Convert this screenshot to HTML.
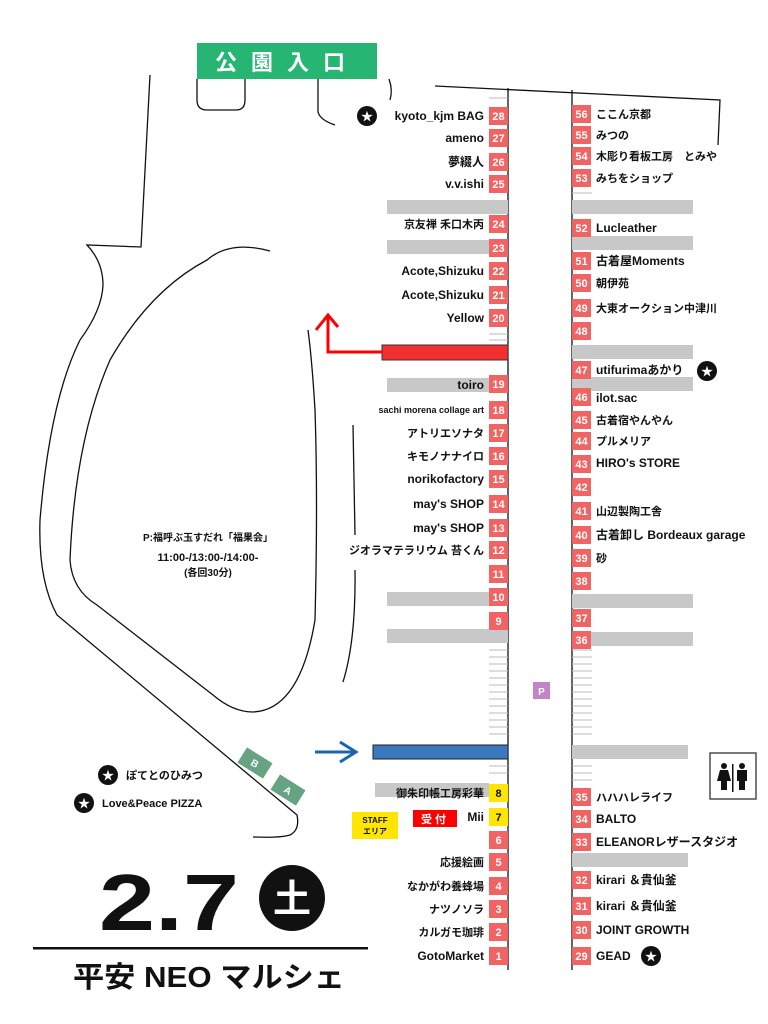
<!DOCTYPE html>
<html><head><meta charset="utf-8"><style>
html,body{margin:0;padding:0;background:#fff;}
svg{display:block;font-family:"Liberation Sans","Noto Sans CJK JP",sans-serif;}
.l{font-size:12px;font-weight:bold;text-anchor:end;fill:#111;}
.r{font-size:12px;font-weight:bold;fill:#111;}
.n{font-size:11px;font-weight:bold;fill:#fff;text-anchor:middle;}
</style></head><body>
<svg width="768" height="1024" viewBox="0 0 768 1024" xmlns="http://www.w3.org/2000/svg">
<rect x="197" y="43" width="180" height="36" fill="#27b573"/>
<text x="287" y="70" font-size="22" font-weight="bold" fill="#fff" text-anchor="middle" letter-spacing="14">公園入口</text>
<g fill="none" stroke="#111" stroke-width="1.3">
<path d="M197,79 L197,100 Q197,110 207,110 L236,110 Q245,110 245,100 L245,79"/>
<path d="M318,79 L318,112 Q320,120 335,125"/>
<path d="M389,79 Q393,90 390,100"/>
<path d="M435,86 L720,100 L718,145"/>
<line x1="508" y1="88" x2="508" y2="970"/>
<line x1="572" y1="90" x2="572" y2="970"/>
<path d="M150,75 L141,247 L87,245 Q103,262 103,285 Q102,310 80,340 Q50,400 40,520 Q38,580 57,615 L297,815 Q300,830 290,835 Q280,838 253,837"/>
<path d="M270,251 Q230,240 207,260 Q150,290 110,360 Q75,440 70,560 Q72,590 97,605 L213,695 Q233,712 253,712 Q300,710 315,620 Q318,500 315,410 Q312,360 308,330"/>
<path d="M353,425 L355,535"/>
<path d="M355,570 Q356,640 343,682"/>
</g>
<g fill="#c8c8c8">
<rect x="387" y="200" width="121" height="14"/><rect x="572" y="200" width="121" height="14"/>
<rect x="387" y="240" width="102" height="14"/><rect x="572" y="236" width="121" height="14"/>
<rect x="572" y="345" width="121" height="14"/>
<rect x="387" y="378" width="102" height="14"/><rect x="572" y="377" width="121" height="14"/>
<rect x="387" y="592" width="121" height="14"/><rect x="572" y="594" width="121" height="14"/>
<rect x="387" y="629" width="121" height="14"/><rect x="572" y="632" width="121" height="14"/>
<rect x="572" y="745" width="116" height="14"/>
<rect x="375" y="783" width="114" height="14"/>
<rect x="572" y="853" width="116" height="14"/>
</g>
<g stroke="#bbb" stroke-width="1">
<line x1="489" y1="650" x2="508" y2="650"/><line x1="489" y1="657" x2="508" y2="657"/><line x1="489" y1="664" x2="508" y2="664"/><line x1="489" y1="671" x2="508" y2="671"/><line x1="489" y1="678" x2="508" y2="678"/><line x1="489" y1="685" x2="508" y2="685"/><line x1="489" y1="692" x2="508" y2="692"/><line x1="489" y1="699" x2="508" y2="699"/><line x1="489" y1="706" x2="508" y2="706"/><line x1="489" y1="713" x2="508" y2="713"/><line x1="489" y1="720" x2="508" y2="720"/><line x1="489" y1="727" x2="508" y2="727"/><line x1="489" y1="734" x2="508" y2="734"/><line x1="489" y1="766" x2="508" y2="766"/><line x1="489" y1="773" x2="508" y2="773"/>
<line x1="572" y1="650" x2="592" y2="650"/><line x1="572" y1="657" x2="592" y2="657"/><line x1="572" y1="664" x2="592" y2="664"/><line x1="572" y1="671" x2="592" y2="671"/><line x1="572" y1="678" x2="592" y2="678"/><line x1="572" y1="685" x2="592" y2="685"/><line x1="572" y1="692" x2="592" y2="692"/><line x1="572" y1="699" x2="592" y2="699"/><line x1="572" y1="706" x2="592" y2="706"/><line x1="572" y1="713" x2="592" y2="713"/><line x1="572" y1="720" x2="592" y2="720"/><line x1="572" y1="727" x2="592" y2="727"/><line x1="572" y1="734" x2="592" y2="734"/><line x1="572" y1="766" x2="592" y2="766"/><line x1="572" y1="773" x2="592" y2="773"/><line x1="572" y1="780" x2="592" y2="780"/>
<line x1="489" y1="98" x2="508" y2="98"/><line x1="489" y1="334" x2="508" y2="334"/><line x1="489" y1="340" x2="508" y2="340"/><line x1="572" y1="193" x2="592" y2="193"/>
</g>
<rect x="382" y="345" width="126" height="15" fill="#f23030" stroke="#333" stroke-width="1"/>
<rect x="373" y="745" width="135" height="14" fill="#3a78c0" stroke="#222" stroke-width="1"/>
<path d="M382,352 L328,352 L328,317" fill="none" stroke="#f00" stroke-width="3"/>
<path d="M316,330 L328,315 L338,327" fill="none" stroke="#f00" stroke-width="3"/>
<path d="M315,752 L355,752" stroke="#1a64b0" stroke-width="3"/>
<path d="M340,742 L356,752 L340,762" fill="none" stroke="#1a64b0" stroke-width="3"/>
<rect x="533" y="682" width="17" height="17" fill="#c283c9"/>
<text x="541.5" y="695" font-size="10" font-weight="bold" fill="#fff" text-anchor="middle">P</text>
<g fill="#f06464">
<rect x="489" y="107" width="19" height="18"/><rect x="489" y="129" width="19" height="18"/><rect x="489" y="153" width="19" height="18"/><rect x="489" y="175" width="19" height="18"/><rect x="489" y="215" width="19" height="18"/><rect x="489" y="239" width="19" height="18"/><rect x="489" y="262" width="19" height="18"/><rect x="489" y="286" width="19" height="18"/><rect x="489" y="309" width="19" height="18"/><rect x="489" y="375" width="19" height="18"/><rect x="489" y="401" width="19" height="18"/><rect x="489" y="424" width="19" height="18"/><rect x="489" y="447" width="19" height="18"/><rect x="489" y="470" width="19" height="18"/><rect x="489" y="495" width="19" height="18"/><rect x="489" y="519" width="19" height="18"/><rect x="489" y="541" width="19" height="18"/><rect x="489" y="565" width="19" height="18"/><rect x="489" y="588" width="19" height="18"/><rect x="489" y="612" width="19" height="18"/>
<rect x="489" y="831" width="19" height="18"/><rect x="489" y="853" width="19" height="18"/><rect x="489" y="877" width="19" height="18"/><rect x="489" y="900" width="19" height="18"/><rect x="489" y="923" width="19" height="18"/><rect x="489" y="947" width="19" height="18"/>
</g>
<rect x="489" y="784" width="19" height="18" fill="#ffe600"/><rect x="489" y="808" width="19" height="18" fill="#ffe600"/>
<g>
<text class="n" x="498.5" y="120">28</text><text class="n" x="498.5" y="142">27</text><text class="n" x="498.5" y="166">26</text><text class="n" x="498.5" y="188">25</text><text class="n" x="498.5" y="228">24</text><text class="n" x="498.5" y="252">23</text><text class="n" x="498.5" y="275">22</text><text class="n" x="498.5" y="299">21</text><text class="n" x="498.5" y="322">20</text><text class="n" x="498.5" y="388">19</text><text class="n" x="498.5" y="414">18</text><text class="n" x="498.5" y="437">17</text><text class="n" x="498.5" y="460">16</text><text class="n" x="498.5" y="483">15</text><text class="n" x="498.5" y="508">14</text><text class="n" x="498.5" y="532">13</text><text class="n" x="498.5" y="554">12</text><text class="n" x="498.5" y="578">11</text><text class="n" x="498.5" y="601">10</text><text class="n" x="498.5" y="625">9</text>
<text class="n" x="498.5" y="797" style="fill:#111">8</text><text class="n" x="498.5" y="821" style="fill:#111">7</text>
<text class="n" x="498.5" y="844">6</text><text class="n" x="498.5" y="866">5</text><text class="n" x="498.5" y="890">4</text><text class="n" x="498.5" y="913">3</text><text class="n" x="498.5" y="936">2</text><text class="n" x="498.5" y="960">1</text>
</g>
<g fill="#f06464">
<rect x="572" y="105" width="19" height="18"/><rect x="572" y="126" width="19" height="18"/><rect x="572" y="147" width="19" height="18"/><rect x="572" y="169" width="19" height="18"/><rect x="572" y="219" width="19" height="18"/><rect x="572" y="252" width="19" height="18"/><rect x="572" y="274" width="19" height="18"/><rect x="572" y="299" width="19" height="18"/><rect x="572" y="322" width="19" height="18"/><rect x="572" y="361" width="19" height="18"/><rect x="572" y="388" width="19" height="18"/><rect x="572" y="411" width="19" height="18"/><rect x="572" y="432" width="19" height="18"/><rect x="572" y="455" width="19" height="18"/><rect x="572" y="478" width="19" height="18"/><rect x="572" y="502" width="19" height="18"/><rect x="572" y="526" width="19" height="18"/><rect x="572" y="549" width="19" height="18"/><rect x="572" y="572" width="19" height="18"/><rect x="572" y="609" width="19" height="18"/><rect x="572" y="631" width="19" height="18"/>
<rect x="572" y="788" width="19" height="18"/><rect x="572" y="810" width="19" height="18"/><rect x="572" y="833" width="19" height="18"/><rect x="572" y="871" width="19" height="18"/><rect x="572" y="897" width="19" height="18"/><rect x="572" y="921" width="19" height="18"/><rect x="572" y="947" width="19" height="18"/>
</g>
<g>
<text class="n" x="581.5" y="118">56</text><text class="n" x="581.5" y="139">55</text><text class="n" x="581.5" y="160">54</text><text class="n" x="581.5" y="182">53</text><text class="n" x="581.5" y="232">52</text><text class="n" x="581.5" y="265">51</text><text class="n" x="581.5" y="287">50</text><text class="n" x="581.5" y="312">49</text><text class="n" x="581.5" y="335">48</text><text class="n" x="581.5" y="374">47</text><text class="n" x="581.5" y="401">46</text><text class="n" x="581.5" y="424">45</text><text class="n" x="581.5" y="445">44</text><text class="n" x="581.5" y="468">43</text><text class="n" x="581.5" y="491">42</text><text class="n" x="581.5" y="515">41</text><text class="n" x="581.5" y="539">40</text><text class="n" x="581.5" y="562">39</text><text class="n" x="581.5" y="585">38</text><text class="n" x="581.5" y="622">37</text><text class="n" x="581.5" y="644">36</text>
<text class="n" x="581.5" y="801">35</text><text class="n" x="581.5" y="823">34</text><text class="n" x="581.5" y="846">33</text><text class="n" x="581.5" y="884">32</text><text class="n" x="581.5" y="910">31</text><text class="n" x="581.5" y="934">30</text><text class="n" x="581.5" y="960">29</text>
</g>
<text class="l" x="484" y="120">kyoto_kjm BAG</text>
<text class="l" x="484" y="142">ameno</text>
<text class="l" x="484" y="166">夢綴人</text>
<text class="l" x="484" y="188">v.v.ishi</text>
<text class="l" x="484" y="228" style="font-size:11px">京友禅 禾口木丙</text>
<text class="l" x="484" y="275">Acote,Shizuku</text>
<text class="l" x="484" y="299">Acote,Shizuku</text>
<text class="l" x="484" y="322">Yellow</text>
<text class="l" x="484" y="389">toiro</text>
<text class="l" x="484" y="413" style="font-size:9px">sachi morena collage art</text>
<text class="l" x="484" y="437" style="font-size:11px">アトリエソナタ</text>
<text class="l" x="484" y="460" style="font-size:11px">キモノナナイロ</text>
<text class="l" x="484" y="483">norikofactory</text>
<text class="l" x="484" y="508">may's SHOP</text>
<text class="l" x="484" y="532">may's SHOP</text>
<text class="l" x="484" y="554" style="font-size:11px">ジオラマテラリウム 苔くん</text>
<text class="l" x="484" y="797" style="font-size:11px">御朱印帳工房彩華</text>
<text class="l" x="484" y="821">Mii</text>
<text class="l" x="484" y="866" style="font-size:11px">応援絵画</text>
<text class="l" x="484" y="890" style="font-size:11px">なかがわ養蜂場</text>
<text class="l" x="484" y="913" style="font-size:11px">ナツノソラ</text>
<text class="l" x="484" y="936" style="font-size:11px">カルガモ珈琲</text>
<text class="l" x="484" y="960">GotoMarket</text>
<text class="r" x="596" y="118" style="font-size:11px">ここん京都</text>
<text class="r" x="596" y="139" style="font-size:11px">みつの</text>
<text class="r" x="596" y="160" style="font-size:11px">木彫り看板工房　とみや</text>
<text class="r" x="596" y="182" style="font-size:11px">みちをショップ</text>
<text class="r" x="596" y="232">Lucleather</text>
<text class="r" x="596" y="265">古着屋Moments</text>
<text class="r" x="596" y="287" style="font-size:11px">朝伊苑</text>
<text class="r" x="596" y="312" style="font-size:11px">大東オークション中津川</text>
<text class="r" x="596" y="374">utifurimaあかり</text>
<text class="r" x="596" y="402">ilot.sac</text>
<text class="r" x="596" y="424" style="font-size:11px">古着宿やんやん</text>
<text class="r" x="596" y="445" style="font-size:11px">プルメリア</text>
<text class="r" x="596" y="467">HIRO's  STORE</text>
<text class="r" x="596" y="515" style="font-size:11px">山辺製陶工舎</text>
<text class="r" x="596" y="539">古着卸し Bordeaux garage</text>
<text class="r" x="596" y="562" style="font-size:11px">砂</text>
<text class="r" x="596" y="801" style="font-size:11px">ハハハレライフ</text>
<text class="r" x="596" y="823">BALTO</text>
<text class="r" x="596" y="846">ELEANORレザースタジオ</text>
<text class="r" x="596" y="884">kirari ＆貴仙釜</text>
<text class="r" x="596" y="910">kirari ＆貴仙釜</text>
<text class="r" x="596" y="934">JOINT GROWTH</text>
<text class="r" x="596" y="960">GEAD</text>
<g>
<circle cx="367" cy="116" r="10" fill="#111"/><text x="367" y="120.5" font-size="12" fill="#fff" text-anchor="middle">★</text>
<circle cx="707" cy="371" r="10" fill="#111"/><text x="707" y="375.5" font-size="12" fill="#fff" text-anchor="middle">★</text>
<circle cx="651" cy="956" r="10" fill="#111"/><text x="651" y="960.5" font-size="12" fill="#fff" text-anchor="middle">★</text>
<circle cx="108" cy="775" r="10" fill="#111"/><text x="108" y="779.5" font-size="12" fill="#fff" text-anchor="middle">★</text>
<circle cx="84" cy="803" r="10" fill="#111"/><text x="84" y="807.5" font-size="12" fill="#fff" text-anchor="middle">★</text>
</g>
<text class="r" x="126" y="779" style="font-size:11px">ぽてとのひみつ</text>
<text class="r" x="102" y="807" style="font-size:11px">Love&amp;Peace PIZZA</text>
<text x="208" y="541" font-size="10" font-weight="bold" text-anchor="middle" fill="#111">P:福呼ぶ玉すだれ「福果会」</text>
<text x="208" y="561" font-size="11" font-weight="bold" text-anchor="middle" fill="#111">11:00-/13:00-/14:00-</text>
<text x="208" y="576" font-size="10" font-weight="bold" text-anchor="middle" fill="#111">(各回30分)</text>
<g transform="translate(255,763) rotate(32)"><rect x="-15" y="-9" width="30" height="18" fill="#66a383"/><text x="0" y="4" font-size="10" font-weight="bold" fill="#fff" text-anchor="middle">B</text></g>
<g transform="translate(288,790) rotate(32)"><rect x="-15" y="-9" width="30" height="18" fill="#66a383"/><text x="0" y="4" font-size="10" font-weight="bold" fill="#fff" text-anchor="middle">A</text></g>
<rect x="352" y="812" width="46" height="27" fill="#ffe600"/>
<text x="375" y="823" font-size="8" font-weight="bold" text-anchor="middle" fill="#111">STAFF</text>
<text x="375" y="834" font-size="8" font-weight="bold" text-anchor="middle" fill="#111">エリア</text>
<rect x="413" y="810" width="44" height="17" fill="#ff0000"/>
<text x="435" y="823" font-size="11" font-weight="bold" text-anchor="middle" fill="#fff" letter-spacing="3">受付</text>
<rect x="710" y="753" width="46" height="46" fill="#fff" stroke="#333" stroke-width="1.3"/>
<g fill="#111"><circle cx="724" cy="766" r="3"/><path d="M720,770 h8 l3,11 h-4 v9 h-6 v-9 h-4 z"/><rect x="732" y="764" width="1.5" height="28"/><circle cx="742" cy="766" r="3"/><path d="M737,770 h10 v11 h-2 v9 h-6 v-9 h-2 z"/></g>
<text x="99" y="930" font-size="80" font-weight="bold" fill="#111" textLength="140" lengthAdjust="spacingAndGlyphs">2.7</text>
<circle cx="292" cy="898" r="33" fill="#111"/>
<text x="292" y="912" font-size="38" font-weight="bold" fill="#fff" text-anchor="middle">土</text>
<rect x="33" y="947" width="335" height="2.5" fill="#111"/>
<text x="73" y="987" font-size="29" font-weight="bold" fill="#111" textLength="272" lengthAdjust="spacingAndGlyphs">平安 NEO マルシェ</text>
</svg>
</body></html>
